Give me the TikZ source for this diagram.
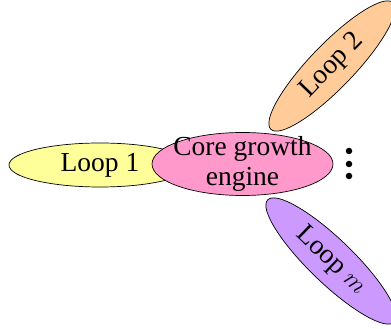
\documentclass[tikz,border=0pt]{standalone}
\usepackage{fontspec}
\setmainfont{Liberation Serif}
\usetikzlibrary{shapes.geometric}
\definecolor{loopyellow}{HTML}{FFFF99}
\definecolor{corepink}{HTML}{FF99CC}
\definecolor{looppeach}{HTML}{FFCC99}
\definecolor{looplilac}{HTML}{CC99FF}
\tikzset{
  label font/.style={font=\fontsize{27.5}{29.5}\selectfont},
  blob/.style={ellipse, draw=black, line width=0.7pt, inner sep=0pt, label font},
  petal/.style={blob, minimum width=176pt, minimum height=44pt},
  dot/.style={circle, fill=black, inner sep=0pt, minimum size=6.5pt}
}
\begin{document}
\begin{tikzpicture}[x=1pt,y=1pt]
  \useasboundingbox (0,0) rectangle (391,329);
  % outer loops
  \node[petal, fill=loopyellow, minimum width=182pt] (loop1) at (100,164) {Loop 1};
  \node[petal, fill=looppeach, rotate=46] (loop2) at (332,263) {Loop 2};
  \node[petal, fill=looplilac, rotate=-44] (loopm) at (331,68) {Loop $m$};
  % central engine: the text runs right up to the outline
  \node[blob, fill=corepink, minimum width=181pt, minimum height=63pt] (core) at (242.5,165) {};
  \node[label font, align=center, inner sep=0pt] (coretext) at (core.center) {Core growth\\engine};
  % ellipsis for further loops
  \node[dot] (d1) at (349,178) {};
  \node[dot] (d2) at (349,165) {};
  \node[dot] (d3) at (349,153) {};
\end{tikzpicture}
\end{document}
